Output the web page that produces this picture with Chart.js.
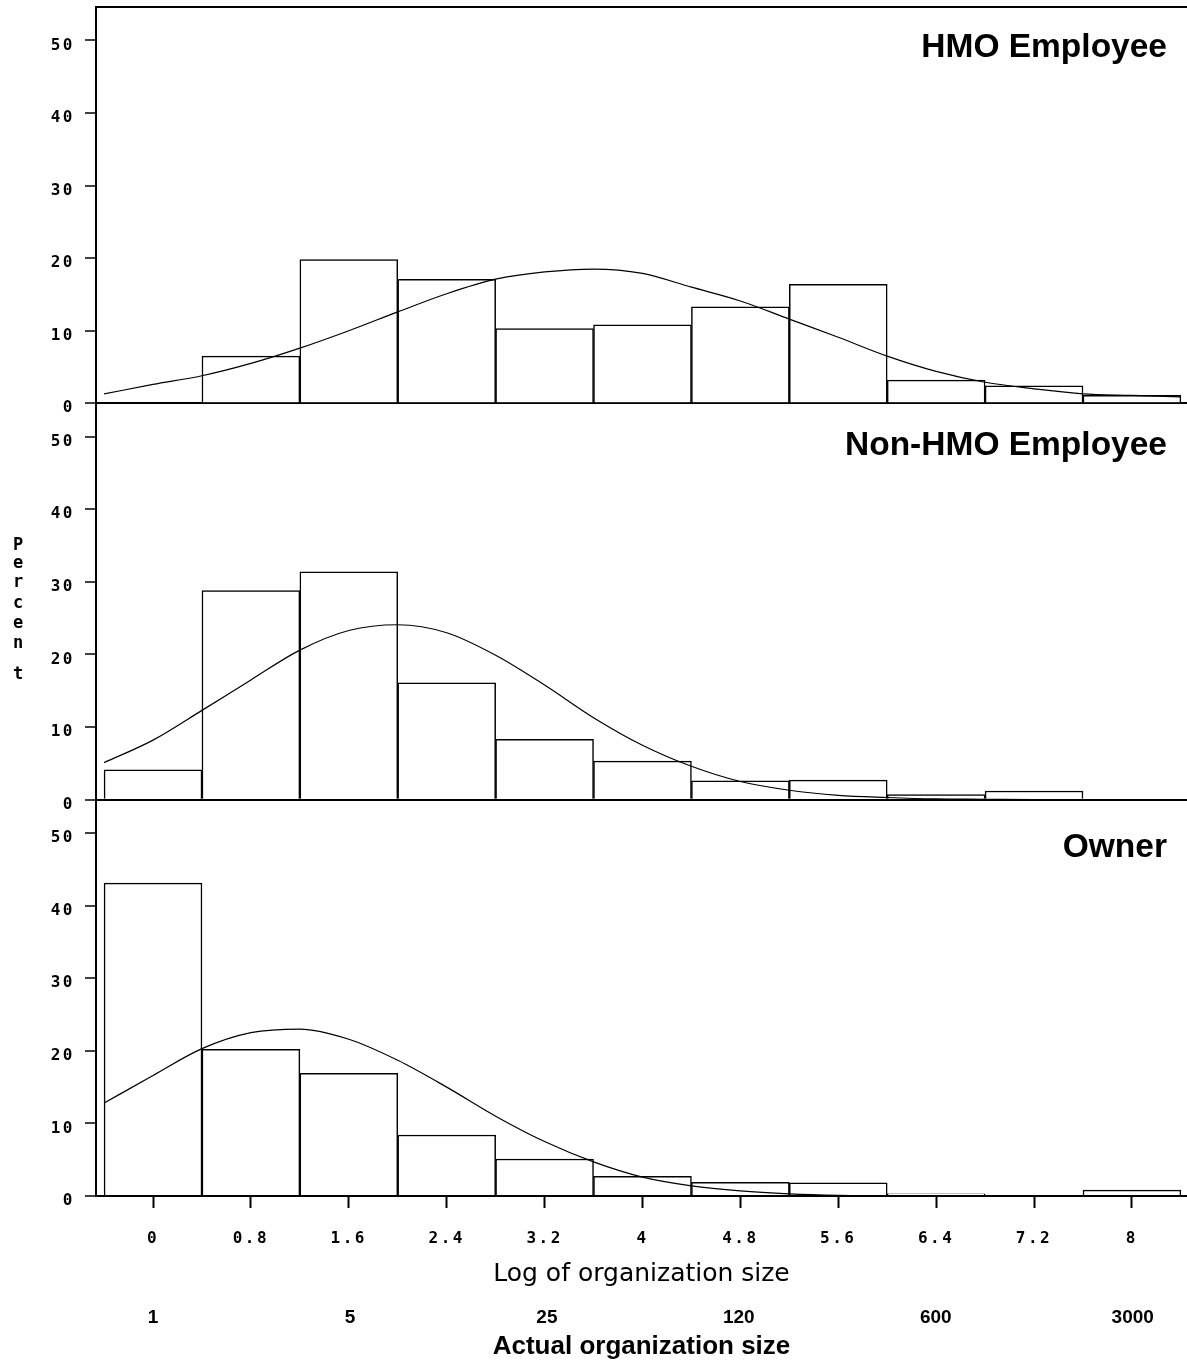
<!DOCTYPE html>
<html>
<head>
<meta charset="utf-8">
<title>Organization size by respondent type</title>
<script src="https://cdn.jsdelivr.net/npm/chart.js@4.4.1/dist/chart.umd.min.js"></script>
<style>
    html, body { margin: 0; padding: 0; background: #fff; }
    canvas { display: block; }
</style>
</head>
<body>
<canvas id="histChart" width="1187" height="1362"></canvas>
<script>
// histogram bins (log of organization size), bin width 0.8
const binCenters = [0, 0.8, 1.6, 2.4, 3.2, 4.0, 4.8, 5.6, 6.4, 7.2, 8.0];

// percent of respondents per bin
const hmoPct    = [0, 6.5, 19.8, 17.1, 10.3, 10.8, 13.3, 16.4, 3.2, 2.4, 1.1];
const nonHmoPct = [4.1, 28.8, 31.4, 16.1, 8.3, 5.3, 2.6, 2.7, 0.7, 1.2, 0];
const ownerPct  = [43.1, 20.2, 16.9, 8.4, 5.1, 2.7, 1.9, 1.8, 0.3, 0, 0.8];

// fitted normal curves
const curveX = [-0.4, 0, 0.4, 0.8, 1.2, 1.6, 2.0, 2.4, 2.8, 3.2, 3.6, 4.0,
                4.4, 4.8, 5.2, 5.6, 6.0, 6.4, 6.8, 7.2, 7.6, 8.0, 8.4];
const hmoCurve    = [1.3, 2.6, 3.8, 5.5, 7.6, 10.0, 12.6, 15.1, 17.1, 18.1, 18.5, 17.9,
                     16.0, 14.1, 11.6, 9.1, 6.5, 4.4, 2.9, 2.0, 1.3, 1.1, 0.9];
const nonHmoCurve = [5.1, 8.2, 12.3, 16.5, 20.6, 23.3, 24.1, 23.0, 19.9, 15.8, 11.3, 7.5,
                     4.6, 2.5, 1.3, 0.6, 0.3, 0.1, 0.05, 0, 0, 0, 0];
const ownerCurve  = [12.8, 16.6, 20.3, 22.5, 23.0, 21.6, 18.7, 15.0, 11.0, 7.5, 4.7, 2.6,
                     1.4, 0.7, 0.3, 0.1, 0.05, 0, 0, 0, 0, 0, 0];

// axes
const yTicks = [0, 10, 20, 30, 40, 50];
const logTicks = [0, 0.8, 1.6, 2.4, 3.2, 4.0, 4.8, 5.6, 6.4, 7.2, 8.0];
const logTickLabels = ['0', '0.8', '1.6', '2.4', '3.2', '4', '4.8', '5.6', '6.4', '7.2', '8'];
const actualSizes = [1, 5, 25, 120, 600, 3000];

const panelTitles = ['HMO Employee', 'Non-HMO Employee', 'Owner'];
const panelAxisIds = ['yHmo', 'yNonHmo', 'yOwner'];

const X_MIN = -0.466;
const X_MAX = 8.45;
const Y_MAX = 54.6;
const BLACK = '#000';
const CLEAR = 'rgba(0,0,0,0)';
const tickFont = { family: 'DejaVu Sans Mono', size: 16, weight: 'bold' };

function panelAxis(weight, isTop) {
    return {
        type: 'linear',
        position: 'left',
        stack: 'panels',
        stackWeight: 1,
        weight: weight,
        min: 0,
        max: Y_MAX,
        afterBuildTicks: axis => {
            // the top panel keeps an extra tick at its upper edge for the frame line
            const vals = isTop ? yTicks.concat([Y_MAX]) : yTicks;
            axis.ticks = vals.map(v => ({ value: v }));
        },
        afterFit: axis => {
            axis.width = 96;
            axis.paddingTop = 0;
            axis.paddingBottom = 0;
        },
        ticks: {
            autoSkip: false,
            padding: 10,
            labelOffset: 5,
            color: BLACK,
            font: tickFont,
            callback: v => (v > 50 ? '' : String(v))
        },
        grid: {
            drawOnChartArea: true,
            tickLength: 11,
            lineWidth: 2,
            tickWidth: 1.5,
            color: ctx => (ctx.tick && (ctx.tick.value === 0 || ctx.tick.value > 50)) ? BLACK : CLEAR,
            tickColor: ctx => (ctx.tick && ctx.tick.value > 50) ? CLEAR : BLACK
        },
        border: { display: true, color: BLACK, width: 2 }
    };
}

function barSet(values, axisId) {
    return {
        type: 'bar',
        data: binCenters.map((x, i) => ({ x: x, y: values[i] })),
        xAxisID: 'x',
        yAxisID: axisId,
        backgroundColor: '#fff',
        borderColor: BLACK,
        borderWidth: 1.5,
        barPercentage: 1,
        categoryPercentage: 1,
        grouped: false,
        order: 2
    };
}

function curveSet(values, axisId) {
    return {
        type: 'line',
        data: curveX.map((x, i) => ({ x: x, y: values[i] })),
        xAxisID: 'x',
        yAxisID: axisId,
        borderColor: BLACK,
        borderWidth: 1.2,
        pointRadius: 0,
        fill: false,
        cubicInterpolationMode: 'monotone',
        order: 1
    };
}

// letter spacing only for tick labels drawn before the datasets;
// axis titles, x2 labels and the panel text come after and use none
const panelText = {
    id: 'panelText',
    beforeDraw(chart) {
        chart.ctx.letterSpacing = '2.5px';
    },
    afterDatasetsDraw(chart) {
        chart.ctx.letterSpacing = '0px';
    },
    afterDraw(chart) {
        const ctx = chart.ctx;
        const titleDrops = [50, 52, 57];
        ctx.save();
        ctx.letterSpacing = '0px';
        ctx.fillStyle = BLACK;
        ctx.textAlign = 'right';
        ctx.textBaseline = 'alphabetic';
        ctx.font = 'bold 33.5px "Liberation Sans"';
        panelAxisIds.forEach((id, i) => {
            const scale = chart.scales[id];
            ctx.fillText(panelTitles[i], chart.chartArea.right - 20, scale.top + titleDrops[i]);
        });

        // vertical "Percent" label, one letter per line
        const letters = 'Percent'.split('');
        const baselines = [550, 568, 587, 608, 628, 648, 679];
        ctx.textAlign = 'center';
        ctx.font = 'bold 17px "DejaVu Sans Mono"';
        letters.forEach((ch, i) => ctx.fillText(ch, 18, baselines[i]));
        ctx.restore();
    }
};

new Chart(document.getElementById('histChart'), {
    type: 'bar',
    data: {
        datasets: [
            curveSet(hmoCurve, 'yHmo'),
            curveSet(nonHmoCurve, 'yNonHmo'),
            curveSet(ownerCurve, 'yOwner'),
            barSet(hmoPct, 'yHmo'),
            barSet(nonHmoPct, 'yNonHmo'),
            barSet(ownerPct, 'yOwner')
        ]
    },
    options: {
        responsive: false,
        animation: false,
        layout: { padding: { top: 7, left: 0, right: 0, bottom: 0 } },
        plugins: {
            legend: { display: false },
            tooltip: { enabled: false }
        },
        scales: {
            yHmo: panelAxis(3, true),
            yNonHmo: panelAxis(2, false),
            yOwner: panelAxis(1, false),
            x: {
                type: 'linear',
                position: 'bottom',
                weight: 0,
                min: X_MIN,
                max: X_MAX,
                offset: false,
                afterBuildTicks: axis => {
                    axis.ticks = logTicks.map(v => ({ value: v }));
                },
                afterFit: axis => {
                    axis.height = 93;
                    axis.paddingLeft = 0;
                    axis.paddingRight = 0;
                },
                ticks: {
                    autoSkip: false,
                    maxRotation: 0,
                    padding: 21,
                    color: BLACK,
                    font: tickFont,
                    callback: (v, i) => logTickLabels[i]
                },
                grid: {
                    z: 1,
                    offset: false,
                    drawOnChartArea: false,
                    tickLength: 12,
                    tickWidth: 2,
                    tickColor: BLACK
                },
                border: { display: true, color: BLACK, width: 2, z: 1 },
                title: {
                    display: true,
                    text: 'Log of organization size',
                    color: BLACK,
                    font: { family: 'DejaVu Sans', size: 25 },
                    padding: { top: 0, bottom: 0 }
                }
            },
            x2: {
                type: 'linear',
                position: 'bottom',
                weight: 1,
                min: X_MIN,
                max: X_MAX,
                offset: false,
                afterBuildTicks: axis => {
                    axis.ticks = actualSizes.map(v => ({ value: Math.log(v) }));
                },
                afterFit: axis => {
                    axis.height = 73;
                    axis.paddingLeft = 0;
                    axis.paddingRight = 0;
                },
                ticks: {
                    z: 1,
                    autoSkip: false,
                    maxRotation: 0,
                    padding: 17,
                    color: BLACK,
                    font: { family: 'Liberation Sans', size: 19, weight: 'bold' },
                    callback: (v, i) => String(actualSizes[i])
                },
                grid: { display: false, drawTicks: false, z: 1 },
                border: { display: false, z: 1 },
                title: {
                    display: true,
                    text: 'Actual organization size',
                    color: BLACK,
                    font: { family: 'Liberation Sans', size: 26, weight: 'bold' },
                    padding: { top: 0, bottom: 0 }
                }
            }
        }
    },
    plugins: [panelText]
});
</script>
</body>
</html>
